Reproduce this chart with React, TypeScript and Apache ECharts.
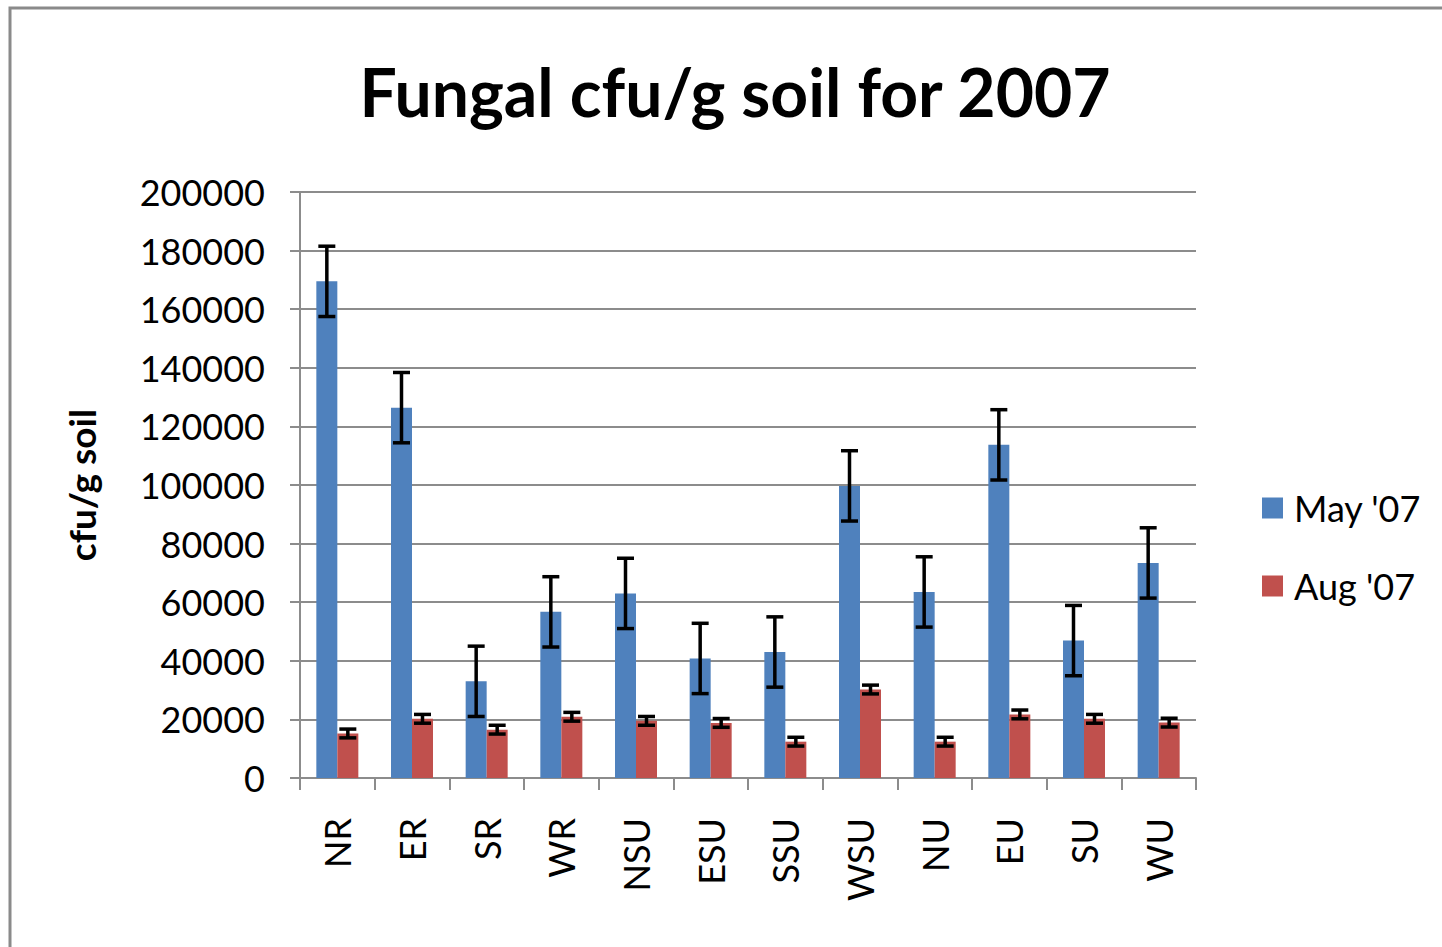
import React, { useEffect, useRef } from "react";
import * as echarts from "echarts";

const categories = ["NR", "ER", "SR", "WR", "NSU", "ESU", "SSU", "WSU", "NU", "EU", "SU", "WU"];
const mayValues = [169500, 126400, 33000, 56700, 63000, 40800, 43000, 99700, 63500, 113700, 46900, 73400];
const mayErrors = [12000, 12000, 12000, 12000, 12000, 12000, 12000, 12000, 12000, 12000, 12000, 12000];
const augValues = [15200, 20200, 16500, 20900, 19500, 18800, 12400, 30200, 12400, 21700, 20200, 18900];
const augErrors = [1500, 1500, 1500, 1500, 1500, 1500, 1500, 1500, 1500, 1500, 1500, 1500];
const seriesNames = ["May '07", "Aug '07"];
const yTicks = { min: 0, max: 200000, interval: 20000 };

const FONT = "Lato, 'Open Sans', sans-serif";
const BAR_W = 21;

function errorSeries(values: number[], errors: number[], offset: number) {
  return {
    type: "custom",
    silent: true,
    z: 10,
    data: values.map((v, i) => [i, v, errors[i]]),
    encode: { x: 0, y: 1 },
    renderItem: (params: any, api: any) => {
      const idx = api.value(0);
      const v = api.value(1);
      const e = api.value(2);
      const top = api.coord([idx, v + e]);
      const bot = api.coord([idx, v - e]);
      const x = top[0] + offset;
      const cap = 8.5;
      const style = { stroke: "#000", lineWidth: 3.5 };
      return {
        type: "group",
        children: [
          { type: "line", shape: { x1: x, y1: top[1], x2: x, y2: bot[1] }, style },
          { type: "line", shape: { x1: x - cap, y1: top[1], x2: x + cap, y2: top[1] }, style },
          { type: "line", shape: { x1: x - cap, y1: bot[1], x2: x + cap, y2: bot[1] }, style },
        ],
      };
    },
  };
}

export default function App() {
  const ref = useRef<HTMLDivElement>(null);
  useEffect(() => {
    const chart = echarts.init(ref.current!, null, { renderer: "svg" });
    chart.setOption({
      animation: false,
      backgroundColor: "#fff",
      graphic: [
        {
          type: "rect",
          shape: { x: 10, y: 8, width: 1460, height: 960 },
          style: { fill: "none", stroke: "#8a8a8a", lineWidth: 3 },
          z: -1,
        },
        {
          type: "text",
          x: 735,
          y: 91,
          style: {
            text: "Fungal cfu/g soil for 2007",
            font: `bold 66px ${FONT}`,
            fill: "#000",
            textAlign: "center",
            textVerticalAlign: "middle",
          },
        },
      ],
      legend: {
        orient: "vertical",
        left: 1257,
        top: 485,
        itemWidth: 21,
        itemHeight: 21,
        itemGap: 42,
        icon: "rect",
        data: seriesNames,
        textStyle: { fontFamily: FONT, fontSize: 36, color: "#000", padding: [0, 0, 0, 6] },
      },
      grid: { left: 300, right: 246, top: 192, bottom: 169, containLabel: false },
      xAxis: {
        type: "category",
        data: categories,
        axisLine: { lineStyle: { color: "#8c8c8c", width: 2 } },
        axisTick: { show: true, length: 12, lineStyle: { color: "#8c8c8c", width: 2 } },
        axisLabel: { rotate: 90, margin: 40, fontFamily: FONT, fontSize: 36, color: "#000" },
      },
      yAxis: {
        type: "value",
        min: yTicks.min,
        max: yTicks.max,
        interval: yTicks.interval,
        name: "cfu/g soil",
        nameLocation: "middle",
        nameGap: 200,
        nameRotate: 90,
        nameTextStyle: { fontFamily: FONT, fontSize: 37, fontWeight: "bold", color: "#000" },
        axisLine: { show: true, lineStyle: { color: "#8c8c8c", width: 2 } },
        axisTick: { show: true, length: 10, lineStyle: { color: "#8c8c8c", width: 2 } },
        splitLine: { lineStyle: { color: "#8c8c8c", width: 2 } },
        axisLabel: {
          margin: 35,
          fontFamily: FONT,
          fontSize: 36,
          color: "#000",
          formatter: (v: number) => String(v),
        },
      },
      series: [
        {
          name: seriesNames[0],
          type: "bar",
          data: mayValues,
          barWidth: BAR_W,
          barGap: "0%",
          itemStyle: { color: "#4F81BD" },
        },
        {
          name: seriesNames[1],
          type: "bar",
          data: augValues,
          barWidth: BAR_W,
          barGap: "0%",
          itemStyle: { color: "#C0504D" },
        },
        errorSeries(mayValues, mayErrors, -BAR_W / 2),
        errorSeries(augValues, augErrors, BAR_W / 2),
      ],
    });
    return () => chart.dispose();
  }, []);
  return (
    <div
      ref={ref}
      style={{ position: "absolute", left: 0, top: 0, width: 1442, height: 947 }}
    />
  );
}
